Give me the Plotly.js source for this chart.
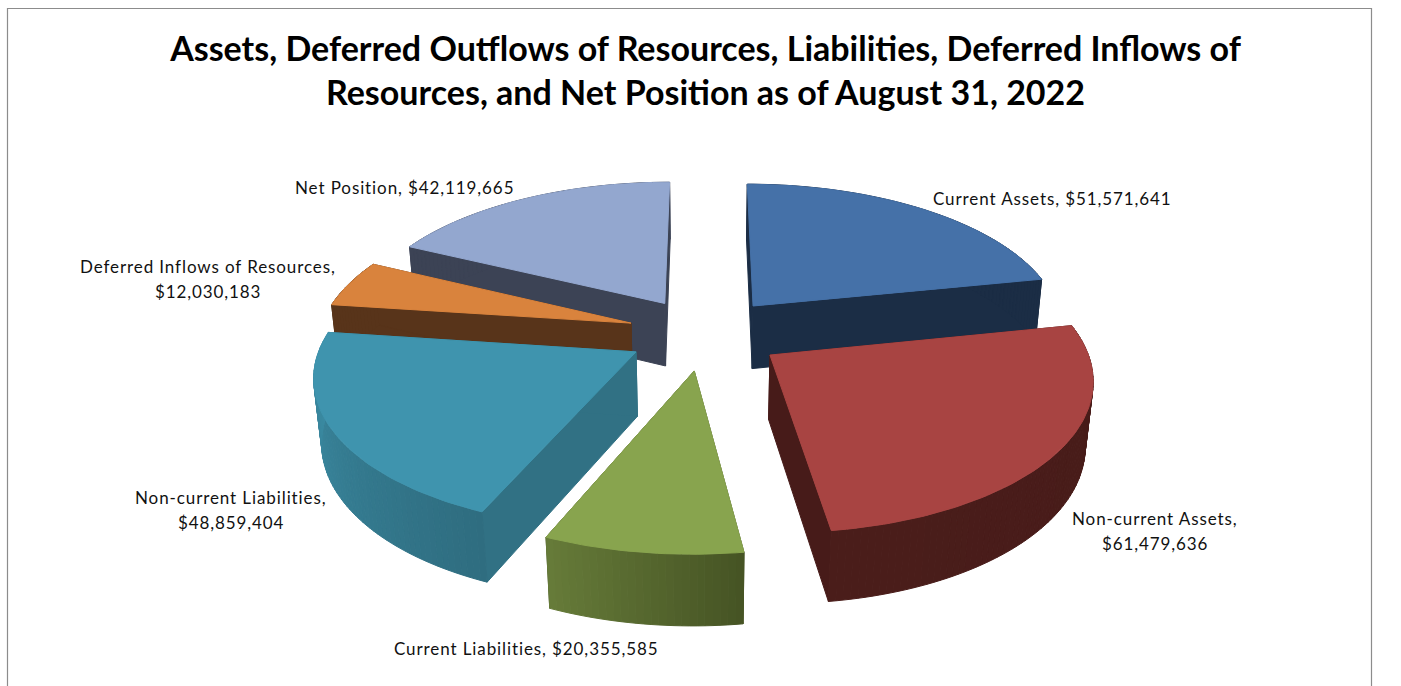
<!DOCTYPE html>
<html><head><meta charset="utf-8">
<script src="https://cdn.plot.ly/plotly-3.0.1.min.js"></script>
<style>html,body{margin:0;padding:0;background:#fff}#c{width:1401px;height:686px}
svg text{font-variant-ligatures:none}
.annotation-text{letter-spacing:.9px}</style>
</head><body><div id="c"></div>
<script>
const categories = ["Current Assets","Non-current Assets","Current Liabilities","Non-current Liabilities","Deferred Inflows of Resources","Net Position"];
const values = [51571641,61479636,20355585,48859404,12030183,42119665];
const topColors = ["#4571A8","#A84442","#88A44E","#3F94AE","#D9833D","#93A7CF"];
const faceColors = ["#1B2D45","#471B19","#465424","#317184","#58341A","#3C4355"];
const rimStartColors = ["#1B2D45","#471B19","#465424","#2F6D80","#58341A","#3C4355"];
const rimEndColors = ["#1B2D45","#4A1D1A","#667B39","#3C8EA6","#58341A","#3C4355"];
const paintOrder = [0,5,4,3,1,2];
const labelLines = [["Current Assets, $51,571,641"],["Non-current Assets,","$61,479,636"],["Current Liabilities, $20,355,585"],["Non-current Liabilities,","$48,859,404"],["Deferred Inflows of Resources,","$12,030,183"],["Net Position, $42,119,665"]];
const labelCentres = [[1052,198],[1155,518],[526,648],[231,497],[208,266],[404,187]];
const labelLineGap = 25;
const titleLines = ["Assets, Deferred Outflows of Resources, Liabilities, Deferred Inflows of","Resources, and Net Position as of August 31, 2022"];

const view = {cx:705,cy:333.5,A:312,B:146,C:65,p:0.14,q:0.02,explode:0.25};
function project(X,Y,Z){
  const w = 1 + view.p*Y + view.q*Z;
  return [view.cx + view.A*X/w, view.cy + (-view.B*Y + view.C*Z)/w];
}
function hex(c){return [1,3,5].map(i=>parseInt(c.substr(i,2),16));}
function mix(a,b,t){const x=hex(a),y=hex(b);return "rgb("+x.map((v,i)=>Math.round(v+(y[i]-v)*t)).join(",")+")";}

const total = values.reduce((a,b)=>a+b,0);
let acc = 0;
const wedges = values.map(v=>{const s=acc/total*2*Math.PI; acc+=v; return {s,e:acc/total*2*Math.PI};});

const traces = [];
function poly(pts,color){
  traces.push({type:"scatter",mode:"lines",x:pts.map(p=>p[0]).concat(pts[0][0]),y:pts.map(p=>p[1]).concat(pts[0][1]),
    fill:"toself",fillcolor:color,line:{color:color,width:1},hoverinfo:"skip",showlegend:false});
}
paintOrder.forEach(i=>{
  const {s,e} = wedges[i], mid=(s+e)/2;
  const ax = view.explode*Math.sin(mid), ay = view.explode*Math.cos(mid);
  const rimPt = (t,z)=>project(ax+Math.sin(t),ay+Math.cos(t),z);
  const apexTop = project(ax,ay,0), apexBot = project(ax,ay,1);
  // radial side faces
  poly([apexTop,rimPt(s,0),rimPt(s,1),apexBot],faceColors[i]);
  poly([apexTop,rimPt(e,0),rimPt(e,1),apexBot],faceColors[i]);
  // rim, as shaded strips
  const n = Math.max(12,Math.round((e-s)/(2*Math.PI)*300));
  for(let k=0;k<n;k++){
    const a=s+(e-s)*k/n, b=s+(e-s)*(k+1)/n;
    poly([rimPt(a,0),rimPt(b,0),rimPt(b,1),rimPt(a,1)],mix(rimStartColors[i],rimEndColors[i],k/(n-1)));
  }
  // top
  const top=[apexTop];
  for(let k=0;k<=n;k++) top.push(rimPt(s+(e-s)*k/n,0));
  poly(top,topColors[i]);
});

const annotations = [];
labelLines.forEach((lines,i)=>{
  lines.forEach((t,j)=>annotations.push({xref:"x",yref:"y",x:labelCentres[i][0],y:labelCentres[i][1]+j*labelLineGap,text:t,showarrow:false,
    xanchor:"center",yanchor:"middle",font:{family:"Lato",size:17,color:"#111"}}));
});
const layout = {
  width:1401,height:686,margin:{l:0,r:0,t:0,b:0},paper_bgcolor:"#fff",plot_bgcolor:"#fff",showlegend:false,
  title:{text:titleLines.join("<br>"),x:705.5/1401,xanchor:"center",y:1-61/686,yanchor:"top",font:{family:"Lato",size:34,color:"#000",weight:700}},
  xaxis:{range:[0,1401],visible:false,fixedrange:true},
  yaxis:{range:[686,0],visible:false,fixedrange:true},
  annotations,
  shapes:[{type:"path",xref:"x",yref:"y",path:"M7.5,686 L7.5,8.5 L1371.5,8.5 L1371.5,686",line:{color:"#8c8c8c",width:1.2}}]
};
Plotly.newPlot("c",traces,layout,{displayModeBar:false,staticPlot:true});
</script></body></html>
